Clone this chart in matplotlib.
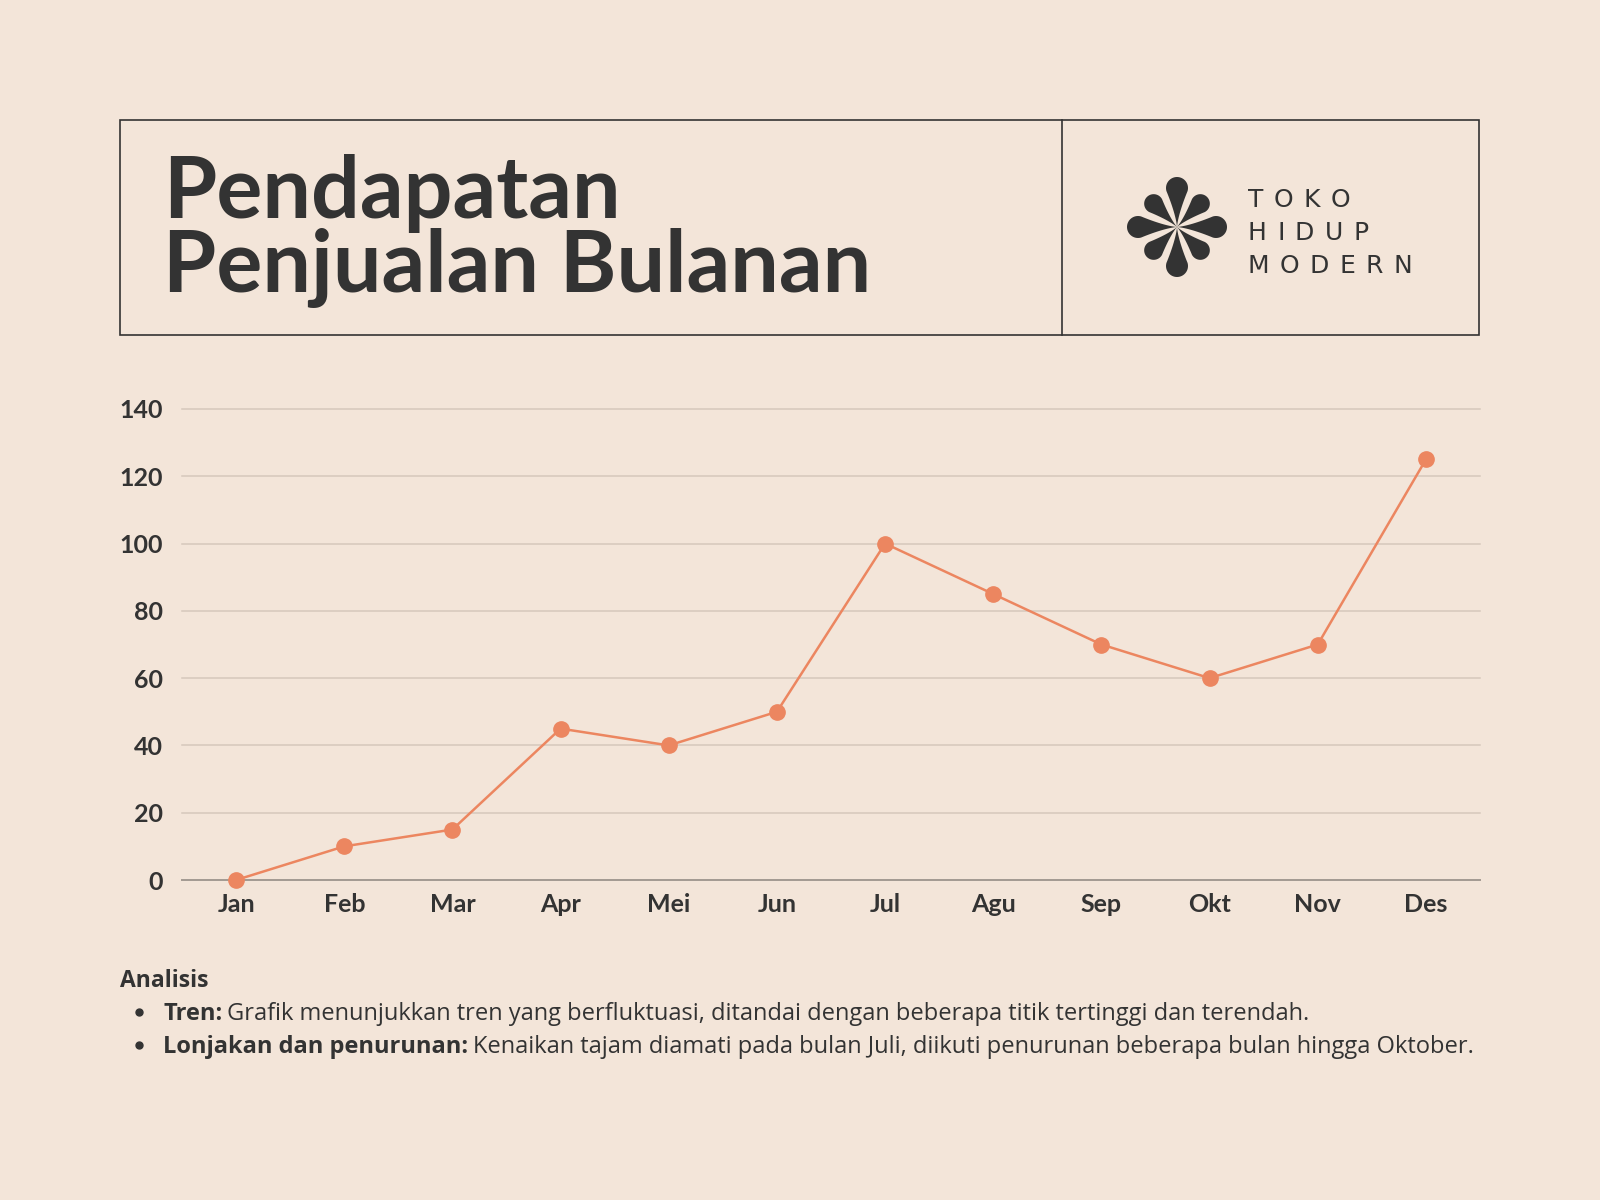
import matplotlib
matplotlib.use("Agg")
import matplotlib.pyplot as plt
from matplotlib.patches import Rectangle, Polygon
from matplotlib.font_manager import FontProperties
from matplotlib.textpath import TextToPath
import numpy as np

# data
bulan = ["Jan", "Feb", "Mar", "Apr", "Mei", "Jun", "Jul", "Agu", "Sep", "Okt", "Nov", "Des"]
pendapatan = [0, 10, 15, 45, 40, 50, 100, 85, 70, 60, 70, 125]
y_ticks = [0, 20, 40, 60, 80, 100, 120, 140]

judul = ["Pendapatan", "Penjualan Bulanan"]
logo_baris = ["TOKO", "HIDUP", "MODERN"]
analisis_judul = "Analisis"
analisis_tebal = ["Tren:", "Lonjakan dan penurunan:"]
analisis_isi = [
    "Grafik menunjukkan tren yang berfluktuasi, ditandai dengan beberapa titik tertinggi dan terendah.",
    "Kenaikan tajam diamati pada bulan Juli, diikuti penurunan beberapa bulan hingga Oktober.",
]

BG = "#F3E5D9"
INK = "#333333"
ORANYE = "#EC8660"
GRID = "#D6C8BB"

plt.rcParams["font.family"] = ["Lato", "DejaVu Sans"]

fig = plt.figure(figsize=(16, 12), dpi=100, facecolor=BG)

# overlay axes in pixel coords (y goes down) for the header and notes
deco = fig.add_axes([0, 0, 1, 1])
deco.set_xlim(0, 1600)
deco.set_ylim(1200, 0)
deco.axis("off")

deco.add_patch(Rectangle((120, 120), 1359, 215, fill=False, ec=INK, lw=1.2))
deco.plot([1062, 1062], [120, 335], color=INK, lw=1.2)

deco.text(163, 218, judul[0], fontsize=62, fontweight="bold", color=INK, va="baseline")
deco.text(163, 292, judul[1], fontsize=62, fontweight="bold", color=INK, va="baseline")


# flower logo
def kelopak(cx, cy, ang, d, a):
    phi = np.arcsin(a / d)
    t = np.linspace(-(np.pi / 2 + phi), np.pi / 2 + phi, 40)
    arc = np.c_[d + a * np.cos(t), a * np.sin(t)]
    s = np.linspace(0, 1, 15)
    t1, t2 = arc[0], arc[-1]
    side1 = np.c_[s * t1[0], (s ** 1.4) * t1[1]]
    side2 = np.c_[s[::-1] * t2[0], (s[::-1] ** 1.4) * t2[1]]
    pts = np.vstack([side1, arc, side2])
    c, sn = np.cos(ang), np.sin(ang)
    rot = np.c_[pts[:, 0] * c - pts[:, 1] * sn, pts[:, 0] * sn + pts[:, 1] * c]
    return Polygon(rot + [cx, cy], closed=True, fc=INK, ec="none")


for k in range(4):
    deco.add_patch(kelopak(1177, 227, k * np.pi / 2, 39, 11))
    deco.add_patch(kelopak(1177, 227, np.pi / 4 + k * np.pi / 2, 33, 9.5))

# logo text, letter spaced
fp = FontProperties(family="DejaVu Sans", size=18)
ttp = TextToPath()


def lebar(s):
    w, h, d = ttp.get_text_width_height_descent(s, fp, ismath=False)
    return w * 100 / 72


track = (164 - sum(lebar(c) for c in "MODERN")) / 5
for baris, yb in zip(logo_baris, [207, 240, 273]):
    x = 1248
    for c in baris:
        deco.text(x, yb, c, fontproperties=fp, color=INK, va="baseline")
        x += lebar(c) + track

# chart
ax = fig.add_axes([182 / 1600, 1 - 880 / 1200, 1298 / 1600, 471 / 1200])
ax.set_facecolor("none")
x = np.arange(len(bulan))
ax.plot(x, pendapatan, color=ORANYE, lw=1.8, marker="o", ms=11, clip_on=False, zorder=3)
ax.set_xlim(-0.5, len(bulan) - 0.5)
ax.set_ylim(0, 140)
ax.set_yticks(y_ticks)
ax.set_xticks(x)
ax.set_xticklabels(bulan)
ax.grid(axis="y", color=GRID, lw=1.1)
for gl in ax.get_ygridlines():
    gl.set_clip_on(False)
ax.set_axisbelow(True)
for sp in ["top", "right", "left"]:
    ax.spines[sp].set_visible(False)
ax.spines["bottom"].set_color("#A39A92")
ax.spines["bottom"].set_linewidth(1.4)
ax.tick_params(axis="y", length=0, pad=14, labelsize=18, labelcolor=INK)
ax.tick_params(axis="x", length=0, pad=9, labelsize=18, labelcolor=INK)
for lab in ax.get_xticklabels() + ax.get_yticklabels():
    lab.set_fontweight("bold")

# notes
badan = ["Open Sans", "DejaVu Sans"]
deco.text(120, 987, analisis_judul, fontsize=16.5, fontweight="bold", family=badan,
          color=INK, va="baseline")
r = fig.canvas.get_renderer()
for tebal, isi, yb in zip(analisis_tebal, analisis_isi, [1020, 1053]):
    deco.plot([139], [yb - 8], "o", color=INK, ms=5)
    t = deco.text(163, yb, tebal, fontsize=17, fontweight="bold", family=badan,
                  color=INK, va="baseline")
    bb = t.get_window_extent(r)
    deco.text(bb.x1 + 5, yb, isi, fontsize=17, family=badan, color=INK, va="baseline")

fig.savefig("out.png", dpi=100, facecolor=BG)
